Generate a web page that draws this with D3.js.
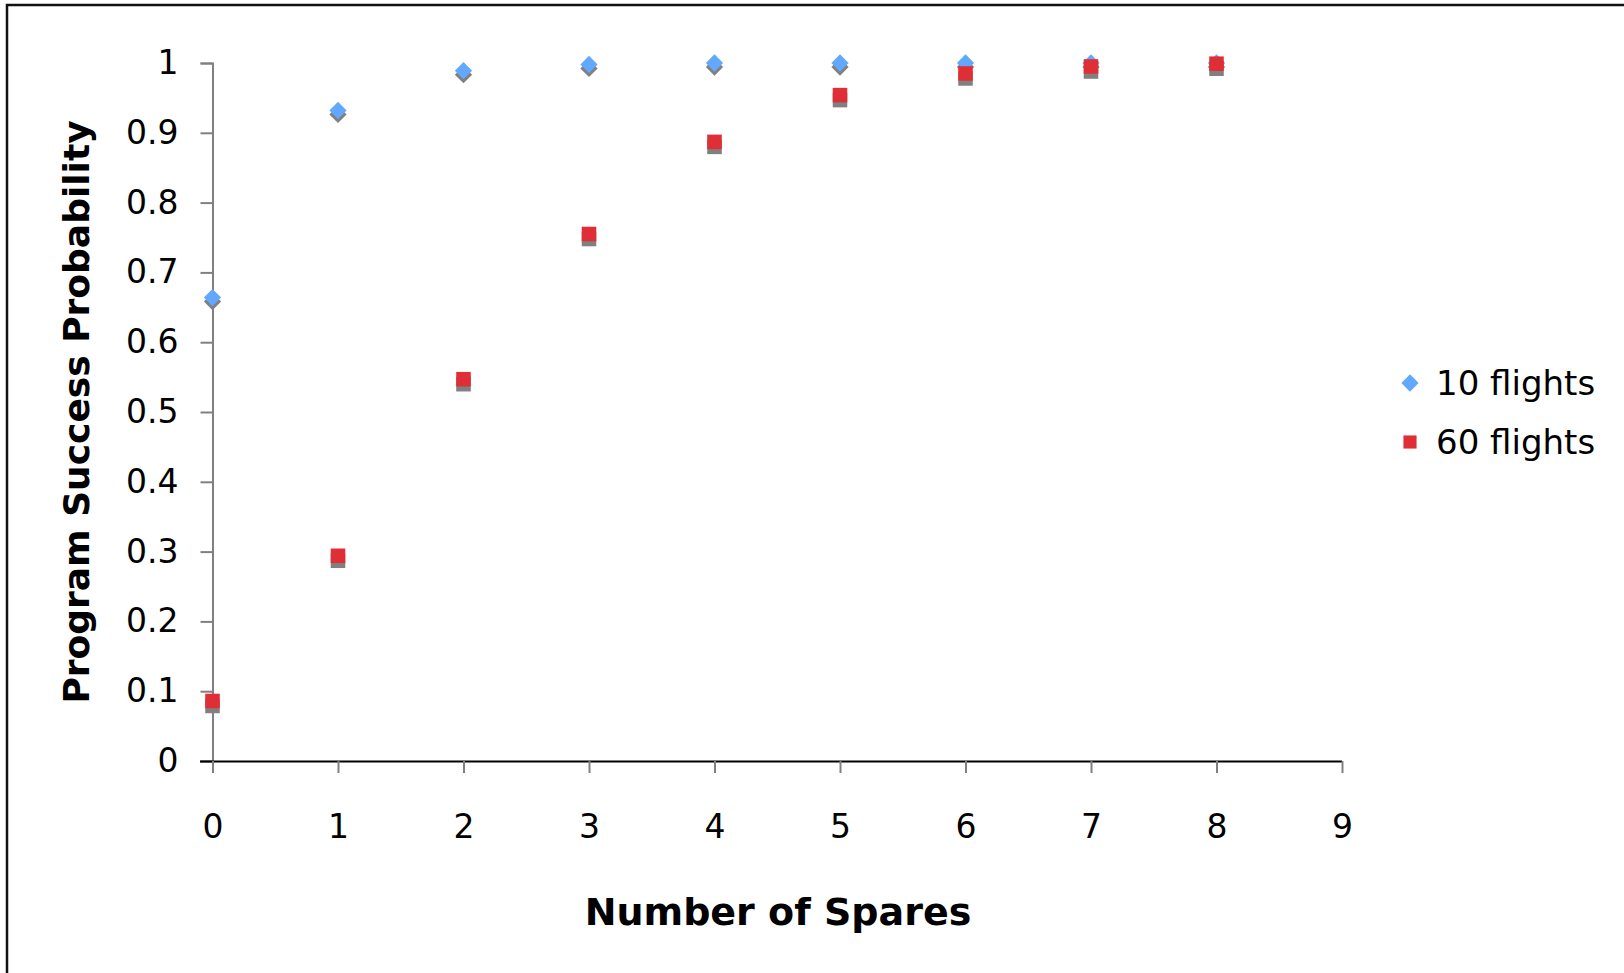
<!DOCTYPE html>
<html>
<head>
<meta charset="utf-8">
<script src="https://d3js.org/d3.v7.min.js"></script>
<style>
  body { margin: 0; background: #fff; }
  text { font-family: "Comic Sans MS", "DejaVu Sans", sans-serif; fill: #000; }
</style>
</head>
<body>
<svg width="1624" height="973"></svg>
<script>
  // data
  var spares = [0, 1, 2, 3, 4, 5, 6, 7, 8];
  var flights10 = [0.664, 0.932, 0.989, 0.998, 1.0, 1.0, 1.0, 1.0, 1.0];
  var flights60 = [0.086, 0.294, 0.547, 0.755, 0.887, 0.954, 0.985, 0.995, 0.999];
  var seriesNames = ["10 flights", "60 flights"];
  var xTicks = [0, 1, 2, 3, 4, 5, 6, 7, 8, 9];
  var yTicks = [0, 0.1, 0.2, 0.3, 0.4, 0.5, 0.6, 0.7, 0.8, 0.9, 1];

  var svg = d3.select("svg");

  // outer frame (only top and left edges show in the picture)
  svg.append("path")
    .attr("d", "M7,973 V5 H1624")
    .attr("fill", "none")
    .attr("stroke", "#111")
    .attr("stroke-width", 2.5);

  var x = d3.scaleLinear().domain([0, 9]).range([212.5, 1342]);
  var y = d3.scaleLinear().domain([0, 1]).range([761, 63]);

  // y axis
  var gy = svg.append("g")
    .attr("transform", "translate(212.5,0)")
    .call(d3.axisLeft(y).tickValues(yTicks).tickSize(12).tickPadding(22)
      .tickFormat(function(d) { return d3.format("")(+d.toFixed(1)); }));
  gy.select(".domain").attr("stroke", "#808080").attr("stroke-width", 2);
  gy.selectAll(".tick line").attr("stroke", "#808080").attr("stroke-width", 2);
  gy.selectAll(".tick text").attr("font-size", 33).style("font-family", null);

  // x axis
  var gx = svg.append("g")
    .attr("transform", "translate(0," + y(0) + ")")
    .call(d3.axisBottom(x).tickValues(xTicks).tickSize(12).tickPadding(42).tickSizeOuter(0));
  gx.select(".domain").attr("stroke", "#000").attr("stroke-width", 2)
    .attr("d", "M200,0.5H" + x(9));
  gx.selectAll(".tick line").attr("stroke", "#808080").attr("stroke-width", 2);
  gx.selectAll(".tick text").attr("font-size", 33).style("font-family", null);
  svg.selectAll(".tick text").attr("fill", "#000");

  // axis titles
  svg.append("text")
    .attr("x", 778)
    .attr("y", 925)
    .attr("text-anchor", "middle")
    .attr("font-size", 38)
    .attr("font-weight", "bold")
    .text("Number of Spares");

  svg.append("text")
    .attr("transform", "translate(89,412) rotate(-90)")
    .attr("text-anchor", "middle")
    .attr("font-size", 36)
    .attr("font-weight", "bold")
    .text("Program Success Probability");

  var diamond = d3.symbol().type(d3.symbolDiamond2).size(190);
  var square = d3.symbol().type(d3.symbolSquare2).size(270);

  // shadows first
  var plot = svg.append("g");
  plot.selectAll(".sh10").data(spares).enter().append("path")
    .attr("d", diamond)
    .attr("fill", "#808080")
    .attr("transform", function(d, i) { return "translate(" + x(d) + "," + (y(flights10[i]) + 4) + ")"; });
  plot.selectAll(".p10").data(spares).enter().append("path")
    .attr("d", diamond)
    .attr("fill", "#62a8ff")
    .attr("transform", function(d, i) { return "translate(" + x(d) + "," + y(flights10[i]) + ")"; });
  plot.selectAll(".sh60").data(spares).enter().append("path")
    .attr("d", square)
    .attr("fill", "#808080")
    .attr("transform", function(d, i) { return "translate(" + x(d) + "," + (y(flights60[i]) + 5) + ")"; });
  plot.selectAll(".p60").data(spares).enter().append("path")
    .attr("d", square)
    .attr("fill", "#e02e36")
    .attr("transform", function(d, i) { return "translate(" + x(d) + "," + y(flights60[i]) + ")"; });

  // legend
  var legend = svg.append("g");
  legend.append("path").attr("d", diamond).attr("fill", "#62a8ff")
    .attr("transform", "translate(1410,383)");
  legend.append("path").attr("d", d3.symbol().type(d3.symbolSquare2).size(220)).attr("fill", "#e02e36")
    .attr("transform", "translate(1410,442)");
  legend.selectAll("text").data(seriesNames).enter().append("text")
    .attr("x", 1436)
    .attr("y", function(d, i) { return 383 + i * 59; })
    .attr("dy", "0.35em")
    .attr("font-size", 34)
    .text(function(d) { return d; });
</script>
</body>
</html>
